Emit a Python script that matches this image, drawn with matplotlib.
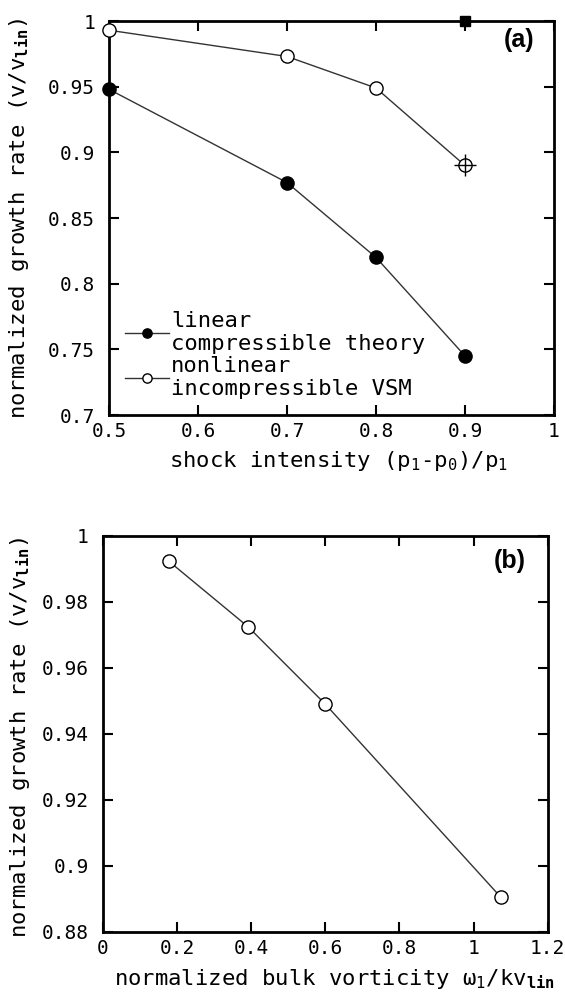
import matplotlib
matplotlib.use("Agg")
import matplotlib.pyplot as plt

# panel (a): growth rate vs shock intensity
shock = [0.5, 0.7, 0.8, 0.9]
linear_rate = [0.948, 0.877, 0.820, 0.745]
nonlinear_rate = [0.993, 0.973, 0.949, 0.890]
stray_x = [0.9]
stray_y = [1.0]

# panel (b): growth rate vs bulk vorticity
vorticity = [0.178, 0.392, 0.600, 1.074]
vsm_rate = [0.9923, 0.9724, 0.9490, 0.8904]

xticks_a = [0.5, 0.6, 0.7, 0.8, 0.9, 1.0]
xlabels_a = ["0.5", "0.6", "0.7", "0.8", "0.9", "1"]
yticks_a = [0.7, 0.75, 0.8, 0.85, 0.9, 0.95, 1.0]
ylabels_a = ["0.7", "0.75", "0.8", "0.85", "0.9", "0.95", "1"]
xticks_b = [0, 0.2, 0.4, 0.6, 0.8, 1.0, 1.2]
xlabels_b = ["0", "0.2", "0.4", "0.6", "0.8", "1", "1.2"]
yticks_b = [0.88, 0.9, 0.92, 0.94, 0.96, 0.98, 1.0]
ylabels_b = ["0.88", "0.9", "0.92", "0.94", "0.96", "0.98", "1"]

plt.rcParams["font.family"] = ["DejaVu Sans Mono"]
plt.rcParams["mathtext.fontset"] = "custom"
plt.rcParams["mathtext.rm"] = "DejaVu Sans Mono"
plt.rcParams["mathtext.it"] = "DejaVu Sans Mono"
plt.rcParams["mathtext.bf"] = "DejaVu Sans Mono:bold"

FS = 14    # tick labels
LFS = 16   # axis labels, legend
LC = "#333333"


def style_axes(ax, xt, xl, yt, yl):
    ax.set_xticks(xt)
    ax.set_xticklabels(xl)
    ax.set_yticks(yt)
    ax.set_yticklabels(yl)
    ax.tick_params(direction="in", length=7, width=1.5, top=True, right=True,
                   labelsize=FS)
    ax.tick_params(axis="y", pad=10)
    ax.tick_params(axis="x", pad=5)
    for s in ax.spines.values():
        s.set_linewidth(2)


fig = plt.figure(figsize=(5.65, 10.01), dpi=100)

# (a)
ax1 = fig.add_axes([0.1929, 0.5854, 0.7876, 0.3936])
ax1.plot(shock, linear_rate, "-o", color=LC, lw=1, mfc="black", mec="black",
         ms=9.5, label="linear\ncompressible theory", clip_on=False, zorder=3)
ax1.plot(shock, nonlinear_rate, "-o", color=LC, lw=1, mfc="white", mec="black",
         mew=1, ms=9.5, label="nonlinear\nincompressible VSM", clip_on=False, zorder=3)
ax1.plot(shock[-1:], nonlinear_rate[-1:], "+", color="black", ms=16, mew=1, zorder=4)
ax1.plot(stray_x, stray_y, "s", color="black", ms=6.5, clip_on=False, zorder=4)
ax1.set_xlim(0.5, 1.0)
ax1.set_ylim(0.7, 1.0)
style_axes(ax1, xticks_a, xlabels_a, yticks_a, ylabels_a)
ax1.set_xlabel("shock intensity (p$_1$-p$_0$)/p$_1$", fontsize=LFS)
ax1.xaxis.set_label_coords(0.515, -0.085)
ax1.set_ylabel("normalized growth rate (v/v$_{\\mathbf{lin}}$)", fontsize=LFS)
ax1.yaxis.set_label_coords(-0.175, 0.5)
ax1.text(0.955, 0.952, "(a)", transform=ax1.transAxes, ha="right", va="center",
         fontsize=18, fontweight="bold", family="Liberation Sans")
leg = ax1.legend(loc="lower left", bbox_to_anchor=(0.0, 0.0), frameon=False,
                 fontsize=LFS, handlelength=2.0, handletextpad=0.1,
                 borderaxespad=0.3, labelspacing=0.1, markerscale=0.7)
for t in leg.get_texts():
    t.set_linespacing(1.2)

# (b)
ax2 = fig.add_axes([0.1818, 0.0692, 0.7876, 0.3956])
ax2.plot(vorticity, vsm_rate, "-o", color=LC, lw=1, mfc="white", mec="black",
         mew=1, ms=9.5, zorder=3)
ax2.set_xlim(0, 1.2)
ax2.set_ylim(0.88, 1.0)
style_axes(ax2, xticks_b, xlabels_b, yticks_b, ylabels_b)
ax2.set_xlabel("normalized bulk vorticity $\\omega_1$/kv$_{\\mathbf{lin}}$", fontsize=LFS)
ax2.xaxis.set_label_coords(0.52, -0.09)
ax2.set_ylabel("normalized growth rate (v/v$_{\\mathbf{lin}}$)", fontsize=LFS)
ax2.yaxis.set_label_coords(-0.16, 0.49)
ax2.text(0.95, 0.937, "(b)", transform=ax2.transAxes, ha="right", va="center",
         fontsize=18, fontweight="bold", family="Liberation Sans")

fig.savefig("out.png", dpi=100)
